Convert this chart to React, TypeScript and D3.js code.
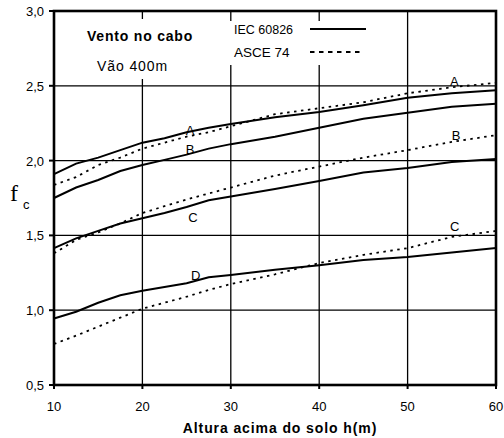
import React from "react";
import * as d3 from "d3";

const heights = [10, 12.5, 15, 17.5, 20, 22.5, 25, 27.5, 30, 35, 40, 45, 50, 55, 60];

const iecA = [1.91, 1.98, 2.02, 2.07, 2.12, 2.15, 2.19, 2.22, 2.245, 2.29, 2.325, 2.37, 2.42, 2.45, 2.47];
const iecB = [1.75, 1.82, 1.87, 1.93, 1.97, 2.005, 2.04, 2.08, 2.11, 2.16, 2.22, 2.28, 2.32, 2.36, 2.38];
const iecC = [1.415, 1.48, 1.53, 1.58, 1.615, 1.65, 1.69, 1.735, 1.76, 1.81, 1.864, 1.92, 1.95, 1.99, 2.01];
const iecD = [0.945, 0.99, 1.05, 1.10, 1.13, 1.155, 1.18, 1.22, 1.235, 1.27, 1.30, 1.335, 1.355, 1.385, 1.415];

const asceA = [1.837, 1.89, 1.97, 2.02, 2.08, 2.12, 2.16, 2.19, 2.23, 2.31, 2.35, 2.39, 2.45, 2.49, 2.52];
const asceB = [1.38, 1.47, 1.52, 1.58, 1.65, 1.695, 1.74, 1.78, 1.82, 1.90, 1.96, 2.02, 2.07, 2.125, 2.17];
const asceC = [0.774, 0.83, 0.89, 0.95, 1.01, 1.05, 1.09, 1.135, 1.175, 1.24, 1.315, 1.37, 1.415, 1.49, 1.53];

const xTicks = [10, 20, 30, 40, 50, 60];
const yTicks = [0.5, 1.0, 1.5, 2.0, 2.5, 3.0];

const iecSeries = [iecA, iecB, iecC, iecD];
const asceSeries = [asceA, asceB, asceC];

const midLabels = [
  { t: "A", x: 24.9, y: 2.17 },
  { t: "B", x: 24.9, y: 2.045 },
  { t: "C", x: 25.2, y: 1.59 },
  { t: "D", x: 25.5, y: 1.2 },
];
const rightLabels = [
  { t: "A", x: 54.8, y: 2.5 },
  { t: "B", x: 55.0, y: 2.14 },
  { t: "C", x: 54.8, y: 1.53 },
];

const FONT = "'Liberation Sans', Arial, sans-serif";

export default function App() {
  const W = 504, H = 438;
  const x = d3.scaleLinear().domain([10, 60]).range([54, 496]);
  const y = d3.scaleLinear().domain([0.5, 3.0]).range([385, 11]);
  const line = d3
    .line<number>()
    .x((_, i) => x(heights[i]))
    .y((d) => y(d));

  return (
    <svg
      width={W}
      height={H}
      style={{ position: "absolute", left: 0, top: 0, background: "#fff" }}
    >
      <rect x={0} y={0} width={W} height={H} fill="#fff" />
      {/* grid */}
      {xTicks.slice(1, -1).map((t) => (
        <line key={"gx" + t} x1={x(t)} x2={x(t)} y1={y(3)} y2={y(0.5)} stroke="#000" strokeWidth={1.3} />
      ))}
      {yTicks.slice(1, -1).map((t) => (
        <line key={"gy" + t} x1={x(10)} x2={x(60)} y1={y(t)} y2={y(t)} stroke="#000" strokeWidth={1.3} />
      ))}
      {/* text boxes hiding grid */}
      <rect x={57} y={19} width={148} height={60} fill="#fff" />
      <rect x={222} y={21} width={150} height={44} fill="#fff" />

      {/* series */}
      {iecSeries.map((s, i) => (
        <path key={"iec" + i} d={line(s) || ""} fill="none" stroke="#000" strokeWidth={2} />
      ))}
      {asceSeries.map((s, i) => (
        <path
          key={"asce" + i}
          d={line(s) || ""}
          fill="none"
          stroke="#000"
          strokeWidth={1.8}
          strokeDasharray="2.5 4.5"
        />
      ))}

      {/* frame */}
      <rect x={x(10)} y={y(3)} width={x(60) - x(10)} height={y(0.5) - y(3)} fill="none" stroke="#000" strokeWidth={2.6} />

      {/* ticks */}
      {yTicks.map((t) => (
        <g key={"yt" + t}>
          <line x1={x(10) - 5} x2={x(10)} y1={y(t)} y2={y(t)} stroke="#000" strokeWidth={2} />
          <text x={44} y={y(t) + 5} textAnchor="end" fontFamily={FONT} fontSize={13} fill="#000">
            {t.toFixed(1).replace(".", ",")}
          </text>
        </g>
      ))}
      {xTicks.map((t) => (
        <g key={"xt" + t}>
          <line x1={x(t)} x2={x(t)} y1={y(0.5)} y2={y(0.5) + 4} stroke="#000" strokeWidth={2} />
          <text x={x(t)} y={411} textAnchor="middle" fontFamily={FONT} fontSize={13} fill="#000">
            {t}
          </text>
        </g>
      ))}

      {/* axis titles */}
      <text x={280} y={433} textAnchor="middle" fontFamily={FONT} fontSize={14} letterSpacing={0.9} fontWeight="bold" fill="#000">
        Altura acima do solo h(m)
      </text>
      <text x={10} y={201} fontFamily="'Liberation Serif', 'Times New Roman', serif" fontSize={24} fill="#000">
        f
      </text>
      <text x={23} y={209} fontFamily={FONT} fontSize={13} fill="#000">
        c
      </text>

      {/* title texts */}
      <text x={87} y={41} fontFamily={FONT} fontSize={14} letterSpacing={0.8} fontWeight="bold" fill="#000">
        Vento no cabo
      </text>
      <text x={97} y={71} fontFamily={FONT} fontSize={14} letterSpacing={0.9} fill="#000">
        Vão 400m
      </text>

      {/* legend */}
      <text x={234} y={34} fontFamily={FONT} fontSize={12.5} fill="#000">
        IEC 60826
      </text>
      <line x1={310} x2={366} y1={29} y2={29} stroke="#000" strokeWidth={2} />
      <text x={234} y={57} fontFamily={FONT} fontSize={13.5} fill="#000">
        ASCE 74
      </text>
      <line x1={310} x2={364} y1={52} y2={52} stroke="#000" strokeWidth={1.8} strokeDasharray="4.5 4.5" />

      {/* curve labels */}
      {midLabels.concat(rightLabels).map((l, i) => (
        <text key={"lb" + i} x={x(l.x)} y={y(l.y)} fontFamily={FONT} fontSize={13} fill="#000">
          {l.t}
        </text>
      ))}
    </svg>
  );
}
